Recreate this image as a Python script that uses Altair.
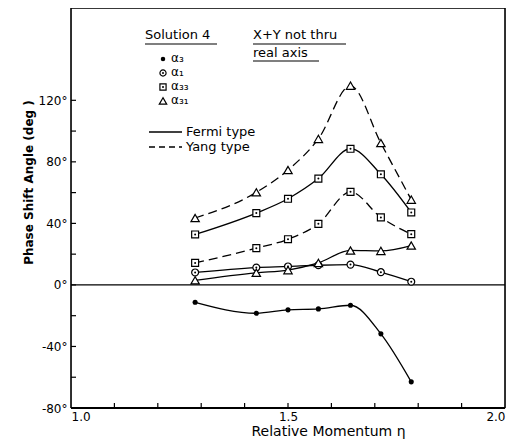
import altair as alt
import pandas as pd

# ---- data ----
eta = [1.286, 1.427, 1.50, 1.57, 1.644, 1.714, 1.784]
alpha3 = [-11.3, -18.4, -16.2, -15.6, -13.2, -31.8, -63.0]
alpha1 = [8.1, 11.3, 12.0, 12.8, 13.2, 8.3, 2.1]
alpha33_fermi = [32.8, 46.7, 56.0, 69.1, 88.5, 71.9, 47.1]
alpha33_yang = [14.3, 23.9, 29.7, 39.7, 60.5, 43.9, 33.0]
alpha31_fermi = [3.0, 7.9, 9.6, 14.3, 22.4, 22.1, 25.6]
alpha31_yang = [43.5, 60.2, 74.7, 94.9, 129.5, 92.2, 55.4]

series_names = ["a3", "a1", "a33F", "a33Y", "a31F", "a31Y"]
series_values = [alpha3, alpha1, alpha33_fermi, alpha33_yang, alpha31_fermi, alpha31_yang]
series_style = ["solid", "solid", "solid", "dashed", "solid", "dashed"]
series_marker = ["dot", "circle", "square", "square", "triangle", "triangle"]

y_tick_labels = [-80, -40, 0, 40, 80, 120]
y_minor_ticks = [-80, -60, -40, -20, 0, 20, 40, 60, 80, 100, 120]
x_tick_labels = [1.0, 1.5, 2.0]
x_minor_ticks = [1.1, 1.2, 1.3, 1.4, 1.5, 1.6, 1.7, 1.8, 1.9]

rows = []
for n, vals, st, mk in zip(series_names, series_values, series_style, series_marker):
    for e, v in zip(eta, vals):
        rows.append({"eta": e, "val": v, "series": n, "style": st, "marker": mk})
df = pd.DataFrame(rows)

W, H = 434, 400
FONT = "DejaVu Sans"
xscale = alt.Scale(domain=[1.0, 2.0], nice=False, zero=False)
yscale = alt.Scale(domain=[-80, 180], nice=False, zero=False)

xaxis = alt.Axis(values=x_tick_labels, format=".1f", labelFlush=True, ticks=False,
                 domain=False, grid=False, labelFont=FONT, labelFontSize=12,
                 labelPadding=3, labelColor="black",
                 title="Relative Momentum η", titleFont=FONT, titleFontSize=14,
                 titleFontWeight="normal", titleColor="black",
                 titleX=257, titleY=23, titleBaseline="middle")
yaxis = alt.Axis(values=y_tick_labels, labelExpr="datum.value + '°'", ticks=False,
                 domain=False, grid=False, labelFont=FONT, labelFontSize=12,
                 labelPadding=4, labelColor="black",
                 title="Phase Shift Angle (deg )", titleFont=FONT, titleFontSize=12,
                 titleFontWeight="bold", titleColor="black",
                 titleX=-43, titleY=174, titleBaseline="middle")

X = alt.X("eta:Q", scale=xscale, axis=xaxis)
Y = alt.Y("val:Q", scale=yscale, axis=yaxis)

base = alt.Chart(df)

solid = base.transform_filter(alt.datum.style == "solid").mark_line(
    interpolate="monotone", color="black", strokeWidth=1.3
).encode(x=X, y=Y, detail="series:N")

dashed = base.transform_filter(alt.datum.style == "dashed").mark_line(
    interpolate="monotone", color="black", strokeWidth=1.3, strokeDash=[9, 5]
).encode(x=X, y=Y, detail="series:N")

dots = base.transform_filter(alt.datum.marker == "dot").mark_point(
    shape="circle", filled=True, color="black", size=26, opacity=1
).encode(x=X, y=Y)

circles = base.transform_filter(alt.datum.marker == "circle").mark_point(
    shape="circle", filled=True, color="white", stroke="black", strokeWidth=1.2, size=48, opacity=1
).encode(x=X, y=Y)

squares = base.transform_filter(alt.datum.marker == "square").mark_point(
    shape="square", filled=True, color="white", stroke="black", strokeWidth=1.2, size=48, opacity=1
).encode(x=X, y=Y)

centers = base.transform_filter(
    (alt.datum.marker == "circle") | (alt.datum.marker == "square")
).mark_point(shape="circle", filled=True, color="black", size=4, opacity=1).encode(x=X, y=Y)

triangles = base.transform_filter(alt.datum.marker == "triangle").mark_point(
    shape="triangle-up", filled=True, color="white", stroke="black", strokeWidth=1.2, size=70, opacity=1
).encode(x=X, y=Y)

zero = alt.Chart(pd.DataFrame({"val": [0]})).mark_rule(color="black", strokeWidth=1.3).encode(y=Y)

yt = alt.Chart(pd.DataFrame({"val": y_minor_ticks})).mark_rule(color="black", strokeWidth=1.2).encode(
    y=Y, x=alt.value(0), x2=alt.value(5)
)
xt = alt.Chart(pd.DataFrame({"eta": x_minor_ticks})).mark_rule(color="black", strokeWidth=1.2).encode(
    x=X, y=alt.value(H), y2=alt.value(H - 5)
)

one = pd.DataFrame({"k": [0]})


def txt(s, x, y, size=13):
    return alt.Chart(one).mark_text(
        align="left", baseline="middle", font=FONT, fontSize=size, color="black"
    ).encode(x=alt.value(x), y=alt.value(y), text=alt.value(s))


def hline(x1, x2, y, dash=None, w=1.1):
    kw = {"color": "black", "strokeWidth": w}
    if dash:
        kw["strokeDash"] = dash
    return alt.Chart(one).mark_rule(**kw).encode(x=alt.value(x1), x2=alt.value(x2), y=alt.value(y))


def vline(x, y1, y2, w=1.6):
    return alt.Chart(one).mark_rule(color="black", strokeWidth=w).encode(
        x=alt.value(x), y=alt.value(y1), y2=alt.value(y2))


def sym(shape, x, y, size, filled_black=False):
    if filled_black:
        return alt.Chart(one).mark_point(shape=shape, filled=True, color="black", size=size, opacity=1).encode(
            x=alt.value(x), y=alt.value(y))
    return alt.Chart(one).mark_point(shape=shape, filled=True, color="white", stroke="black",
                                     strokeWidth=1.2, size=size, opacity=1).encode(x=alt.value(x), y=alt.value(y))


frame = [
    vline(0, 0, H), vline(W, 0, H),
    hline(0, W, 0, w=1.6), hline(0, W, H, w=2.0),
]

legend = [
    txt("Solution 4", 74, 27), hline(74, 146, 36),
    txt("X+Y not thru", 182, 27), hline(182, 275, 36),
    txt("real axis", 182, 45), hline(182, 248, 53),
    sym("circle", 92, 51, 20, True), txt("α₃", 100, 50, 12),
    sym("circle", 92, 65, 38), sym("circle", 92, 65, 4, True), txt("α₁", 100, 64, 12),
    sym("square", 92, 79, 38), sym("circle", 92, 79, 4, True), txt("α₃₃", 100, 78, 12),
    sym("triangle-up", 92, 93, 55), txt("α₃₁", 100, 92, 12),
    hline(78, 111, 124, w=1.3), txt("Fermi type", 115, 124),
    hline(78, 111, 139, dash=[6, 4], w=1.3), txt("Yang type", 115, 139),
]

chart = alt.layer(
    zero, yt, xt, *frame, solid, dashed, dots, circles, squares, centers, triangles, *legend
).properties(
    width=W, height=H,
    autosize=alt.AutoSizeParams(type="none"),
    padding={"left": 63, "top": 0, "right": 2, "bottom": 32},
).configure_view(strokeWidth=0).configure(background="white")

chart.save("out.html", embed_options={"renderer": "svg", "actions": False})
